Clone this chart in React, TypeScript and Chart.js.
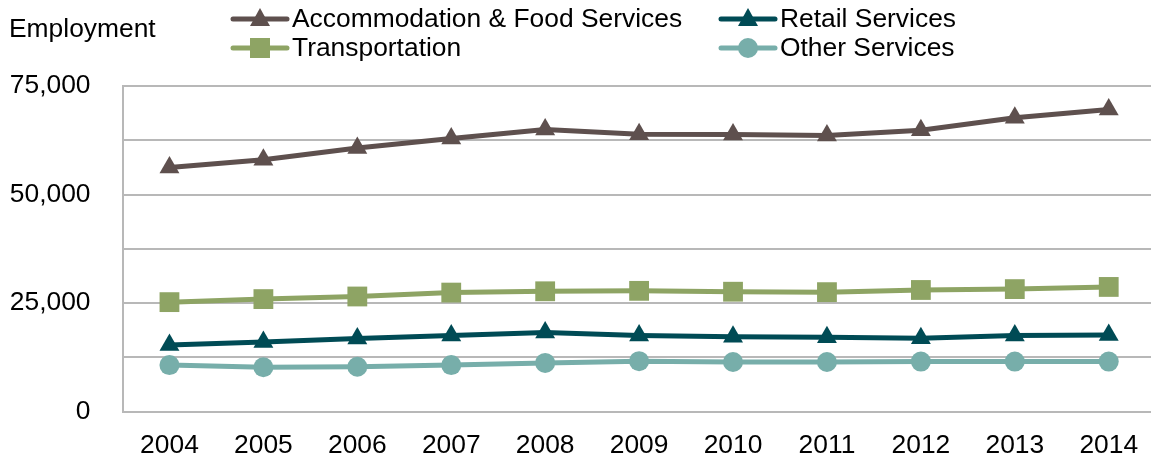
import React, { useEffect, useRef } from "react";
import { Chart, registerables } from "chart.js";

Chart.register(...registerables);

const years = ["2004", "2005", "2006", "2007", "2008", "2009", "2010", "2011", "2012", "2013", "2014"];
const accommodation = [56200, 58000, 60700, 62900, 65000, 63900, 63800, 63600, 64800, 67700, 69600];
const retail = [15300, 16000, 16800, 17500, 18200, 17500, 17200, 17100, 16900, 17500, 17600];
const transportation = [25200, 25900, 26500, 27400, 27700, 27800, 27600, 27500, 28000, 28200, 28700];
const other = [10700, 10200, 10300, 10700, 11200, 11600, 11400, 11400, 11500, 11500, 11500];
const yTickLabels = [0, 25000, 50000, 75000];

const C_ACC = "#5e504e";
const C_RET = "#004b55";
const C_TRA = "#8ea464";
const C_OTH = "#77aeaa";
const GRID = "#b8b8b8";
const FONT = "Arial, 'Liberation Sans', sans-serif";

type LegendItem = { label: string; color: string; shape: string; x: number; y: number };
const legendItems: LegendItem[] = [
  { label: "Accommodation & Food Services", color: C_ACC, shape: "triangle", x: 231, y: 19 },
  { label: "Retail Services", color: C_RET, shape: "triangle", x: 719, y: 19 },
  { label: "Transportation", color: C_TRA, shape: "rect", x: 231, y: 48 },
  { label: "Other Services", color: C_OTH, shape: "circle", x: 719, y: 48 },
];

function drawMarker(ctx: CanvasRenderingContext2D, shape: string, cx: number, cy: number, color: string) {
  ctx.fillStyle = color;
  ctx.beginPath();
  if (shape === "triangle") {
    ctx.moveTo(cx, cy - 11);
    ctx.lineTo(cx + 10, cy + 7);
    ctx.lineTo(cx - 10, cy + 7);
    ctx.closePath();
  } else if (shape === "rect") {
    ctx.rect(cx - 10, cy - 10, 20, 20);
  } else {
    ctx.arc(cx, cy, 10, 0, Math.PI * 2);
  }
  ctx.fill();
}

const customLegend = {
  id: "customLegend",
  afterDraw(chart: any) {
    const ctx: CanvasRenderingContext2D = chart.ctx;
    ctx.save();
    ctx.font = `26.4px ${FONT}`;
    ctx.textBaseline = "middle";
    ctx.textAlign = "left";
    ctx.fillStyle = "#000";
    ctx.fillText("Employment", 9, 30);
    legendItems.forEach((it) => {
      ctx.strokeStyle = it.color;
      ctx.lineWidth = 5;
      ctx.lineCap = "round";
      ctx.beginPath();
      ctx.moveTo(it.x + 2, it.y);
      ctx.lineTo(it.x + 56, it.y);
      ctx.stroke();
      drawMarker(ctx, it.shape, it.x + 29, it.y, it.color);
      ctx.fillStyle = "#000";
      ctx.fillText(it.label, it.x + 61, it.y + 1);
    });
    ctx.restore();
  },
};

export default function App() {
  const ref = useRef<HTMLCanvasElement | null>(null);
  useEffect(() => {
    if (!ref.current) return;
    const mk = (label: string, data: number[], color: string, style: string, radius: number) => ({
      label,
      data: data.map((v, i) => ({ x: i, y: v })),
      borderColor: color,
      backgroundColor: color,
      borderWidth: 5,
      pointStyle: style,
      pointRadius: radius,
      pointHoverRadius: radius,
      pointBorderWidth: 0,
      pointBackgroundColor: color,
      tension: 0,
      clip: false,
    });
    const chart = new Chart(ref.current, {
      type: "line",
      data: {
        datasets: [
          mk("Other Services", other, C_OTH, "circle", 10),
          mk("Retail Services", retail, C_RET, "triangle", 11.5),
          mk("Transportation", transportation, C_TRA, "rect", 14),
          mk("Accommodation & Food Services", accommodation, C_ACC, "triangle", 11.5),
        ],
      },
      options: {
        animation: false,
        responsive: false,
        maintainAspectRatio: false,
        layout: { autoPadding: false, padding: { top: 86, left: 0, right: 0, bottom: 0 } },
        plugins: { legend: { display: false }, tooltip: { enabled: false } },
        scales: {
          x: {
            type: "linear",
            min: -0.5,
            max: 10.45,
            grid: { display: false, drawTicks: false },
            border: { display: false },
            afterBuildTicks: (scale: any) => {
              scale.ticks = years.map((_, i) => ({ value: i }));
            },
            afterFit: (scale: any) => {
              scale.height = 45.5;
              scale.paddingLeft = 0;
              scale.paddingRight = 0;
            },
            ticks: {
              autoSkip: false,
              maxRotation: 0,
              padding: 18,
              color: "#000",
              font: { family: FONT, size: 26.4 },
              callback: (v: any) => years[Math.round(Number(v))] ?? "",
            },
          },
          y: {
            min: 0,
            max: 75000,
            grid: { color: GRID, lineWidth: 2, drawTicks: false },
            border: { display: true, color: GRID, width: 2 },
            afterFit: (scale: any) => {
              scale.width = 122.5;
              scale.paddingTop = 0;
              scale.paddingBottom = 0;
            },
            ticks: {
              stepSize: 12500,
              padding: 32,
              color: "#000",
              font: { family: FONT, size: 26.4 },
              callback: (v: any) =>
                yTickLabels.includes(Number(v)) ? Number(v).toLocaleString("en-US") : "",
            },
          },
        },
      },
      plugins: [customLegend],
    } as any);
    return () => chart.destroy();
  }, []);
  return (
    <div style={{ position: "fixed", left: 0, top: 0, width: 1151, height: 457, background: "#fff" }}>
      <canvas ref={ref} width={1151} height={457} style={{ display: "block" }} />
    </div>
  );
}
